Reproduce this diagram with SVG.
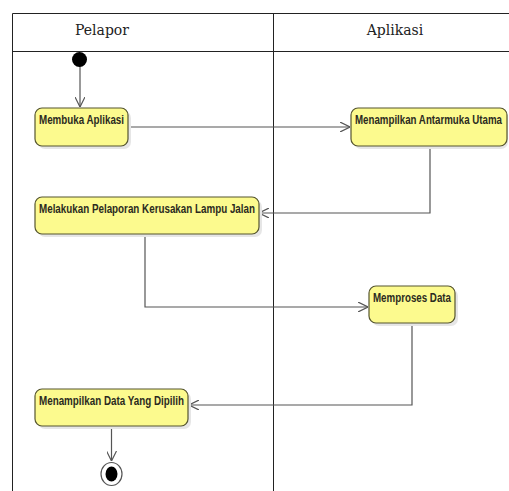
<svg xmlns="http://www.w3.org/2000/svg" width="509" height="491" viewBox="0 0 509 491">
<defs>
<style>
.lane{stroke:#222;stroke-width:1;fill:none}
.hdr{font-family:"DejaVu Serif",serif;font-size:14px;fill:#222;text-anchor:middle}
.box{fill:#fcfa8e;stroke:#55552f;stroke-width:1.2}
.shadow{fill:#e6e6e6}
.lbl{font-family:"Liberation Sans",Arial,sans-serif;font-size:12px;font-weight:bold;fill:#2b2b1e}
.conn{stroke:#555;stroke-width:1.2;fill:none}
</style>
<marker id="arr" viewBox="0 0 10 10" refX="10" refY="5" markerWidth="10" markerHeight="10" markerUnits="userSpaceOnUse" orient="auto">
<path d="M0,0 L10,5 L0,10" fill="none" stroke="#555" stroke-width="1.2"/>
</marker>
</defs>
<rect width="509" height="491" fill="#fff"/>
<g id="lanes">
<line class="lane" x1="12.5" y1="13.5" x2="509" y2="13.5"/>
<line class="lane" x1="12.5" y1="51.5" x2="509" y2="51.5"/>
<line class="lane" x1="12.5" y1="13.5" x2="12.5" y2="491"/>
<line class="lane" x1="273.5" y1="13.5" x2="273.5" y2="491"/>
<text class="hdr" x="102" y="35">Pelapor</text>
<text class="hdr" x="395" y="35">Aplikasi</text>
</g>
<g id="connectors">
<line class="conn" x1="80" y1="66" x2="80" y2="107" marker-end="url(#arr)"/>
<line class="conn" x1="128" y1="127" x2="350" y2="127" marker-end="url(#arr)"/>
<polyline class="conn" points="430,146 430,213 259,213" marker-end="url(#arr)"/>
<polyline class="conn" points="145,234 145,307 368,307" marker-end="url(#arr)"/>
<polyline class="conn" points="412,323 412,405 189,405" marker-end="url(#arr)"/>
<line class="conn" x1="111.5" y1="426" x2="111.5" y2="461" marker-end="url(#arr)"/>
</g>
<g id="start">
<circle cx="79.5" cy="59.5" r="7.5" fill="#000"/>
</g>
<g id="membuka">
<rect class="shadow" x="38" y="111" width="93" height="38" rx="7"/>
<rect class="box" x="35" y="108" width="93" height="38" rx="7"/>
<text class="lbl" x="39" y="124" textLength="85" lengthAdjust="spacingAndGlyphs">Membuka Aplikasi</text>
</g>
<g id="antarmuka">
<rect class="shadow" x="354" y="111" width="154" height="38" rx="7"/>
<rect class="box" x="351" y="108" width="156" height="38" rx="7"/>
<text class="lbl" transform="translate(355 124) scale(0.84 1)" x="0" y="0" textLength="175" lengthAdjust="spacingAndGlyphs">Menampilkan Antarmuka Utama</text>
</g>
<g id="pelaporan">
<rect class="shadow" x="38" y="200" width="224" height="37" rx="7"/>
<rect class="box" x="35" y="197" width="224" height="37" rx="7"/>
<text class="lbl" x="39" y="213" textLength="216" lengthAdjust="spacingAndGlyphs">Melakukan Pelaporan Kerusakan Lampu Jalan</text>
</g>
<g id="memproses">
<rect class="shadow" x="372" y="289" width="86" height="37" rx="7"/>
<rect class="box" x="369" y="286" width="86" height="37" rx="7"/>
<text class="lbl" x="373" y="302" textLength="78" lengthAdjust="spacingAndGlyphs">Memproses Data</text>
</g>
<g id="tampil">
<rect class="shadow" x="38" y="392" width="153" height="37" rx="7"/>
<rect class="box" x="35" y="389" width="153" height="37" rx="7"/>
<text class="lbl" x="39" y="405" textLength="145" lengthAdjust="spacingAndGlyphs">Menampilkan Data Yang Dipilih</text>
</g>
<g id="end">
<ellipse cx="111.5" cy="474" rx="10.5" ry="11.5" fill="#fff" stroke="#555" stroke-width="1.2"/>
<ellipse cx="111.5" cy="474" rx="6" ry="7.5" fill="#000"/>
</g>
</svg>
